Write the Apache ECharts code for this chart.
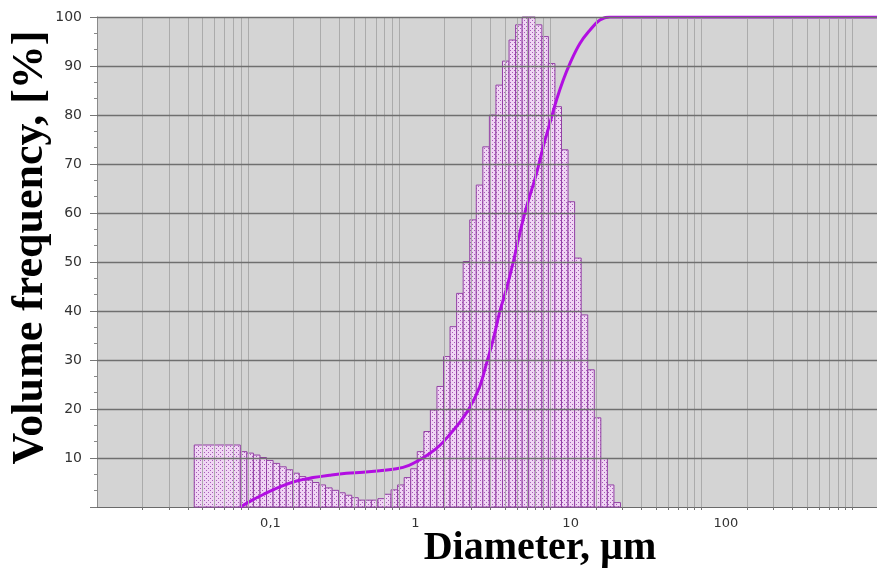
<!DOCTYPE html>
<html>
<head>
<meta charset="utf-8">
<script src="https://cdn.jsdelivr.net/npm/echarts@6/dist/echarts.min.js"></script>
<style>
html, body { margin: 0; padding: 0; background: #fff; }
#chart { width: 877px; height: 570px; }
</style>
</head>
<body>
<div id="chart"></div>
<script>
// histogram channel edges, µm (first channel is the wide one)
var binEdges = [0.044, 0.0888, 0.0981, 0.1084, 0.1198, 0.1324, 0.1463, 0.1617, 0.1786, 0.1974,
    0.2181, 0.2410, 0.2663, 0.2943, 0.3252, 0.3594, 0.3971, 0.4388, 0.4849, 0.5358,
    0.5921, 0.6543, 0.7230, 0.7989, 0.8828, 0.9756, 1.078, 1.191, 1.316, 1.455,
    1.607, 1.776, 1.963, 2.169, 2.397, 2.648, 2.927, 3.234, 3.574, 3.949,
    4.364, 4.822, 5.329, 5.888, 6.507, 7.190, 7.945, 8.780, 9.702, 10.72,
    11.85, 13.09, 14.47, 15.99, 17.67, 19.52, 21.57, 23.84, 26.34, 29.11];
// volume frequency of each channel, %
var binHeights = [12.65, 11.3, 11.0, 10.6, 10.1, 9.5, 8.9, 8.2, 7.6, 6.9,
    6.2, 5.5, 5.0, 4.5, 3.9, 3.4, 2.9, 2.4, 1.9, 1.4,
    1.4, 1.4, 1.7, 2.6, 3.5, 4.5, 6.0, 7.8, 11.3, 15.4,
    19.8, 24.6, 30.7, 36.8, 43.6, 50.1, 58.6, 65.7, 73.5, 80,
    86.1, 91, 95.3, 98.4, 100, 100, 98.4, 96, 90.5, 81.7,
    72.9, 62.3, 50.8, 39.2, 28, 18.2, 9.9, 4.5, 0.9];

// cumulative curve
var curveSizes = [0.0888, 0.105, 0.125, 0.162, 0.209, 0.269, 0.346, 0.447, 0.576, 0.743,
    0.958, 1.16, 1.36, 1.59, 1.86, 2.16, 2.52, 2.93, 3.41, 3.78,
    4.18, 4.63, 5.13, 5.67, 6.28, 6.96, 8.10, 8.96, 9.92, 10.99,
    12.15, 13.46, 15.68, 18.26, 21.27, 24.77, 2000];
var curveValues = [0, 1.3, 2.5, 4.1, 5.3, 6.0, 6.5, 6.9, 7.1, 7.4,
    7.8, 8.5, 9.6, 10.9, 12.6, 14.8, 17.3, 20.3, 24.6, 29.3,
    34.1, 39.9, 44.6, 49.9, 55.9, 61.3, 68.1, 73.5, 78.3, 83.1,
    87.1, 90.5, 94.6, 97.3, 99.4, 100, 100];

var xTickLabels = { '-1': '0,1', '0': '1', '1': '10', '2': '100' };
var yGridValues = [10, 20, 30, 40, 50, 60, 70, 80, 90, 100];

// log grid lines 2..9 of every decade
var xGridValues = [];
for (var n = -2; n <= 2; n++) {
    for (var k = 1; k <= 9; k++) {
        if (n == -2 && k == 1) continue;
        xGridValues.push(parseFloat((k * Math.pow(10, n)).toPrecision(3)));
    }
}
xGridValues.push(1000);

// dotted fill used by the bars
var dots = document.createElement('canvas');
dots.width = 4;
dots.height = 4;
var ctx = dots.getContext('2d');
ctx.fillStyle = '#f0d6f4';
ctx.fillRect(0, 0, 4, 4);
ctx.fillStyle = '#a85cb8';
ctx.fillRect(0, 0, 1, 1);
ctx.fillRect(2, 2, 1, 1);

var barData = [];
for (var i = 0; i < binHeights.length; i++) {
    barData.push([binEdges[i], binEdges[i + 1], binHeights[i]]);
}

var Chart = echarts.init(document.getElementById('chart'));
Chart.setOption({
    animation: false,
    grid: {
        left: 97, right: 0, top: 17, bottom: 63,
        outerBoundsMode: 'none',
        containLabel: false,
        show: true, backgroundColor: '#d4d4d4', borderWidth: 0
    },
    xAxis: {
        type: 'log',
        logBase: 10,
        min: 0.01,
        max: 1450,
        name: 'Diameter, µm',
        nameLocation: 'middle',
        nameGap: 22,
        nameMoveOverlap: false,
        nameTextStyle: {
            fontFamily: 'Liberation Serif', fontWeight: 'bold', fontSize: 40, color: '#000',
            padding: [0, 0, 0, 106]
        },
        axisLine: { lineStyle: { color: '#6a6a6a', width: 1 } },
        axisTick: { show: true, length: 3, customValues: xGridValues, lineStyle: { color: '#777' } },
        splitLine: { show: false },
        axisLabel: {
            align: 'left',
            margin: 10,
            padding: [0, 0, 0, 12],
            fontFamily: 'DejaVu Sans', fontSize: 13, color: '#333',
            formatter: function (v) {
                var key = String(Math.round(Math.log10(v)));
                return xTickLabels[key] || '';
            }
        }
    },
    yAxis: {
        type: 'value',
        min: 0,
        max: 100,
        interval: 10,
        name: 'Volume frequency, [%]',
        nameLocation: 'middle',
        nameGap: 44,
        nameMoveOverlap: false,
        nameTextStyle: {
            fontFamily: 'Liberation Serif', fontWeight: 'bold', fontSize: 44, color: '#000',
            padding: [0, 0, 0, 29]
        },
        axisLine: { show: true, lineStyle: { color: '#8a8a8a', width: 1 } },
        axisTick: { show: true, length: 7, lineStyle: { color: '#777' } },
        minorTick: { show: true, splitNumber: 3, length: 3, lineStyle: { color: '#888' } },
        splitLine: { show: false },
        axisLabel: {
            margin: 15,
            fontFamily: 'DejaVu Sans', fontSize: 14, color: '#333',
            formatter: function (v) { return v == 0 ? '' : v; }
        }
    },
    series: [
        {
            // vertical grid, under the bars
            type: 'line',
            data: [],
            z: 1,
            markLine: {
                silent: true,
                symbol: ['none', 'none'],
                label: { show: false },
                lineStyle: { color: '#ababab', width: 1, type: 'solid' },
                data: xGridValues.map(function (v) { return { xAxis: v }; })
            }
        },
        {
            type: 'custom',
            z: 2,
            data: barData,
            encode: { x: [0, 1], y: 2 },
            renderItem: function (params, api) {
                var p0 = api.coord([api.value(0), api.value(2)]);
                var p1 = api.coord([api.value(1), 0]);
                return {
                    type: 'rect',
                    shape: { x: p0[0], y: p0[1], width: p1[0] - p0[0], height: p1[1] - p0[1] },
                    style: { fill: { image: dots, repeat: 'repeat' }, stroke: '#9341a5', lineWidth: 1 }
                };
            }
        },
        {
            // horizontal grid, drawn over the bars
            type: 'line',
            data: [],
            z: 3,
            markLine: {
                silent: true,
                symbol: ['none', 'none'],
                label: { show: false },
                lineStyle: { color: '#6f6f6f', width: 1.3, type: 'solid' },
                data: yGridValues.map(function (v) { return { yAxis: v }; })
            }
        },
        {
            type: 'line',
            z: 4,
            data: curveSizes.map(function (s, i) { return [s, curveValues[i]]; }),
            smooth: 0.4,
            showSymbol: false,
            lineStyle: { color: '#b20ee2', width: 3 }
        }
    ]
});
</script>
</body>
</html>
